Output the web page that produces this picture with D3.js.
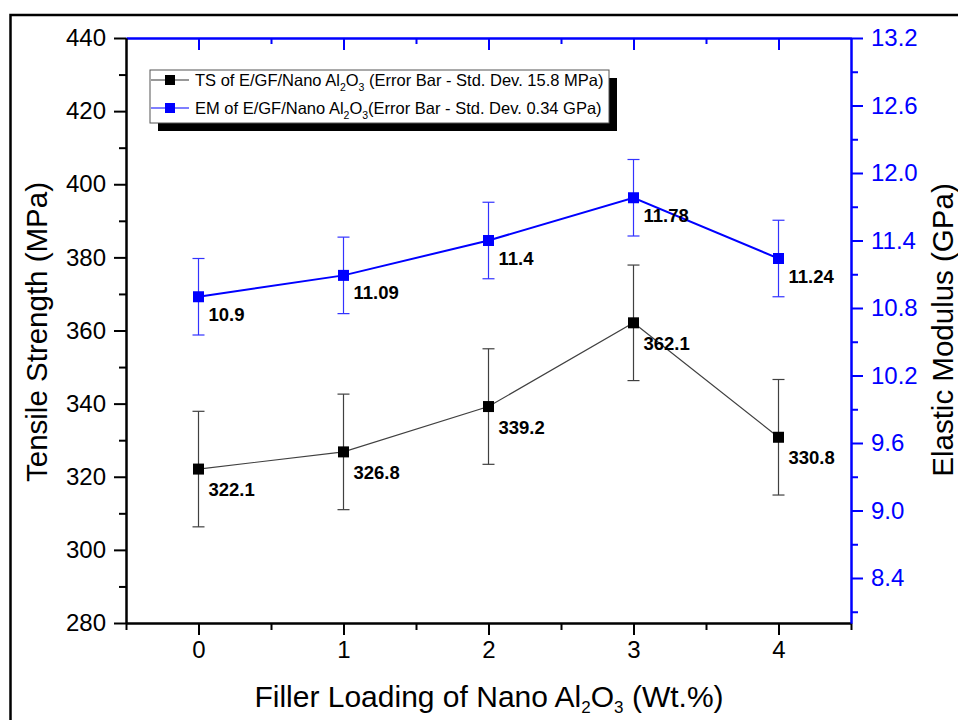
<!DOCTYPE html>
<html>
<head>
<meta charset="utf-8">
<script src="https://cdn.jsdelivr.net/npm/d3@7"></script>
<style>
  body { margin: 0; background: #fff; }
  svg { display: block; font-family: "Liberation Sans", Arial, sans-serif; }
</style>
</head>
<body>
<div id="plot"></div>
<script>
var width = 958;
var height = 720;

// data
var loadings = [0, 1, 2, 3, 4];
var tsValues = [322.1, 326.8, 339.2, 362.1, 330.8];
var emValues = [10.9, 11.09, 11.4, 11.78, 11.24];
var tsErr = 15.8;
var emErr = 0.34;
var tsTicks = [280, 300, 320, 340, 360, 380, 400, 420, 440];
var tsMinor = [290, 310, 330, 350, 370, 390, 410, 430];
var emTicks = [8.4, 9.0, 9.6, 10.2, 10.8, 11.4, 12.0, 12.6, 13.2];
var emMinor = [8.1, 8.7, 9.3, 9.9, 10.5, 11.1, 11.7, 12.3, 12.9];
var xMinor = [-0.5, 0.5, 1.5, 2.5, 3.5, 4.5];

var blue = '#0000ff';

var canvas = d3.select('#plot')
    .append('svg')
    .attr('width', width)
    .attr('height', height);

// outer frame
canvas.append('rect')
    .attr('x', 10.5).attr('y', 15)
    .attr('width', 1000).attr('height', 800)
    .attr('fill', 'none')
    .attr('stroke', '#000')
    .attr('stroke-width', 2.5);

var x = d3.scaleLinear().domain([-0.5, 4.5]).range([126, 851]);
var yL = d3.scaleLinear().domain([280, 440]).range([623, 38]);
var yR = d3.scaleLinear().domain([8.0, 13.2]).range([623, 38]);

function styleAxis(g, color) {
    g.select('.domain').attr('stroke', color).attr('stroke-width', 2);
    g.selectAll('.tick line').attr('stroke', color).attr('stroke-width', 2);
    g.selectAll('.tick text').attr('fill', color)
        .attr('font-size', 24)
        .attr('font-family', '"Liberation Sans", Arial, sans-serif');
}

// bottom axis
var gx = canvas.append('g').attr('transform', 'translate(0,623)')
    .call(d3.axisBottom(x).tickValues(loadings).tickFormat(d3.format('d')).tickSize(12).tickSizeOuter(0).tickPadding(6));
styleAxis(gx, '#000');
var gxm = canvas.append('g').attr('transform', 'translate(0,623)')
    .call(d3.axisBottom(x).tickValues(xMinor).tickFormat('').tickSize(7).tickSizeOuter(0));
styleAxis(gxm, '#000');

// top axis (ticks inward)
var gt = canvas.append('g').attr('transform', 'translate(0,38)')
    .call(d3.axisBottom(x).tickValues(loadings).tickFormat('').tickSize(12).tickSizeOuter(0));
styleAxis(gt, blue);
var gtm = canvas.append('g').attr('transform', 'translate(0,38)')
    .call(d3.axisBottom(x).tickValues(xMinor.slice(1, -1)).tickFormat('').tickSize(6).tickSizeOuter(0));
styleAxis(gtm, blue);

// left axis
var gl = canvas.append('g').attr('transform', 'translate(126,0)')
    .call(d3.axisLeft(yL).tickValues(tsTicks).tickFormat(d3.format('d')).tickSize(12).tickSizeOuter(0).tickPadding(8));
styleAxis(gl, '#000');
var glm = canvas.append('g').attr('transform', 'translate(126,0)')
    .call(d3.axisLeft(yL).tickValues(tsMinor).tickFormat('').tickSize(7).tickSizeOuter(0));
styleAxis(glm, '#000');

// right axis
var gr = canvas.append('g').attr('transform', 'translate(851,0)')
    .call(d3.axisRight(yR).tickValues(emTicks).tickFormat(d3.format('.1f')).tickSize(12).tickSizeOuter(0).tickPadding(8));
styleAxis(gr, blue);
var grm = canvas.append('g').attr('transform', 'translate(851,0)')
    .call(d3.axisRight(yR).tickValues(emMinor).tickFormat('').tickSize(7).tickSizeOuter(0));
styleAxis(grm, blue);

// axis titles
canvas.append('text')
    .attr('transform', 'translate(47,332) rotate(-90)')
    .attr('text-anchor', 'middle')
    .attr('font-size', 29.5)
    .attr('fill', '#000')
    .text('Tensile Strength (MPa)');

canvas.append('text')
    .attr('transform', 'translate(953,330) rotate(-90)')
    .attr('text-anchor', 'middle')
    .attr('font-size', 29.5)
    .attr('fill', '#000')
    .text('Elastic Modulus (GPa)');

var xt = canvas.append('text')
    .attr('x', 489).attr('y', 707)
    .attr('text-anchor', 'middle')
    .attr('font-size', 30)
    .attr('fill', '#000');
xt.append('tspan').text('Filler Loading of Nano Al');
xt.append('tspan').attr('font-size', 17).attr('dy', 6).text('2');
xt.append('tspan').attr('dy', -6).text('O');
xt.append('tspan').attr('font-size', 17).attr('dy', 6).text('3');
xt.append('tspan').attr('dy', -6).text(' (Wt.%)');

// series
var series = [
    { values: emValues, err: emErr, y: yR, color: blue, lineColor: blue, lw: 2, barColor: '#3333ff', dy: 24 },
    { values: tsValues, err: tsErr, y: yL, color: '#000', lineColor: '#404040', lw: 1.2, barColor: '#404040', dy: 27 }
];

series.forEach(function(s) {
    var pts = loadings.map(function(d, i) { return { x: d, v: s.values[i] }; });
    var line = d3.line()
        .x(function(d) { return x(d.x); })
        .y(function(d) { return s.y(d.v); });

    canvas.append('path')
        .attr('d', line(pts))
        .attr('fill', 'none')
        .attr('stroke', s.lineColor)
        .attr('stroke-width', s.lw);

    var bars = canvas.append('g');
    bars.selectAll('line.err')
        .data(pts).enter().append('line')
        .attr('x1', function(d) { return x(d.x); })
        .attr('x2', function(d) { return x(d.x); })
        .attr('y1', function(d) { return s.y(d.v - s.err); })
        .attr('y2', function(d) { return s.y(d.v + s.err); })
        .attr('stroke', s.barColor).attr('stroke-width', 1.2);
    [-1, 1].forEach(function(sign) {
        bars.selectAll('line.cap' + (sign > 0 ? 'p' : 'm'))
            .data(pts).enter().append('line')
            .attr('x1', function(d) { return x(d.x) - 6; })
            .attr('x2', function(d) { return x(d.x) + 6; })
            .attr('y1', function(d) { return s.y(d.v + sign * s.err); })
            .attr('y2', function(d) { return s.y(d.v + sign * s.err); })
            .attr('stroke', s.barColor).attr('stroke-width', 1.2);
    });

    canvas.selectAll(null)
        .data(pts).enter().append('rect')
        .attr('x', function(d) { return x(d.x) - 5.5; })
        .attr('y', function(d) { return s.y(d.v) - 5.5; })
        .attr('width', 11).attr('height', 11)
        .attr('fill', s.color);

    canvas.selectAll(null)
        .data(pts).enter().append('text')
        .attr('x', function(d) { return x(d.x) + 10; })
        .attr('y', function(d) { return s.y(d.v) + s.dy; })
        .attr('font-size', 18.5)
        .attr('font-weight', 'bold')
        .attr('fill', '#000')
        .text(function(d) { return d.v; });
});

// legend
var legend = canvas.append('g');
legend.append('rect')
    .attr('x', 158).attr('y', 78).attr('width', 459).attr('height', 53)
    .attr('fill', '#000');
legend.append('rect')
    .attr('x', 150).attr('y', 70).attr('width', 459).attr('height', 53)
    .attr('fill', '#fff').attr('stroke', '#555').attr('stroke-width', 1);

var legendItems = [
    { label: 'TS of E/GF/Nano Al', tail: ' (Error Bar - Std. Dev. 15.8 MPa)', color: '#000', lineColor: '#333' },
    { label: 'EM of E/GF/Nano Al', tail: '(Error Bar - Std. Dev. 0.34 GPa)', color: blue, lineColor: blue }
];
legendItems.forEach(function(d, i) {
    var cy = 80 + i * 28;
    legend.append('line')
        .attr('x1', 151).attr('x2', 189).attr('y1', cy).attr('y2', cy)
        .attr('stroke', d.lineColor).attr('stroke-width', 1.2);
    legend.append('rect')
        .attr('x', 165).attr('y', cy - 5).attr('width', 10).attr('height', 10)
        .attr('fill', d.color);
    var t = legend.append('text')
        .attr('x', 195).attr('y', cy + 6)
        .attr('font-size', 16.5)
        .attr('fill', '#000');
    t.append('tspan').text(d.label);
    t.append('tspan').attr('font-size', 10.5).attr('dy', 5).text('2');
    t.append('tspan').attr('dy', -5).text('O');
    t.append('tspan').attr('font-size', 10.5).attr('dy', 5).text('3');
    t.append('tspan').attr('dy', -5).text(d.tail);
});
</script>
</body>
</html>
